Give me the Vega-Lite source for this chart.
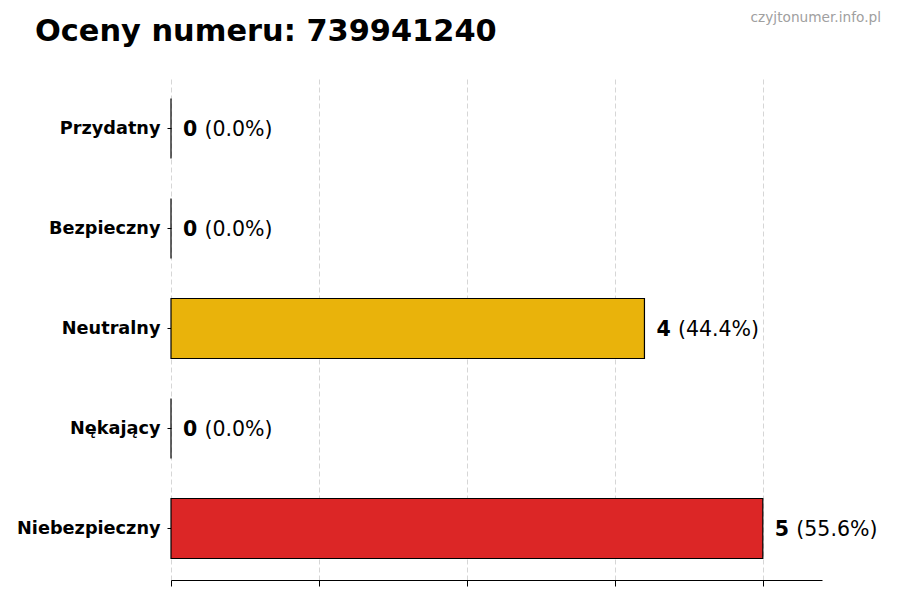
{
  "$schema": "https://vega.github.io/schema/vega-lite/v6.json",
  "width": 651,
  "height": 503,
  "autosize": {"type": "none"},
  "padding": {"left": 171, "top": 77, "right": 78, "bottom": 20},
  "background": "white",
  "config": {"view": {"stroke": null}, "font": "DejaVu Sans"},
  "data": {
    "values": [
      {"kategoria": "Przydatny", "liczba": 0, "procent": "(0.0%)", "kolor": "#22a34a"},
      {"kategoria": "Bezpieczny", "liczba": 0, "procent": "(0.0%)", "kolor": "#2563eb"},
      {"kategoria": "Neutralny", "liczba": 4, "procent": "(44.4%)", "kolor": "#e9b30b"},
      {"kategoria": "Nękający", "liczba": 0, "procent": "(0.0%)", "kolor": "#f97316"},
      {"kategoria": "Niebezpieczny", "liczba": 5, "procent": "(55.6%)", "kolor": "#dc2626"}
    ]
  },
  "encoding": {
    "y": {
      "field": "kategoria",
      "type": "nominal",
      "sort": null,
      "scale": {"paddingInner": 0.4, "paddingOuter": 0.215},
      "axis": {
        "title": null,
        "domain": false,
        "ticks": true,
        "tickColor": "#000000",
        "tickSize": 4,
        "labelPadding": 7,
        "labelFont": "DejaVu Sans",
        "labelFontSize": 17.7,
        "labelFontWeight": "bold",
        "labelColor": "#000000",
        "grid": false
      }
    }
  },
  "layer": [
    {
      "mark": {"type": "bar", "stroke": "#000000", "strokeWidth": 1.2},
      "encoding": {
        "x": {
          "field": "liczba",
          "type": "quantitative",
          "scale": {"domain": [0, 5.5], "nice": false},
          "axis": {
            "title": null,
            "values": [0, 1.25, 2.5, 3.75, 5],
            "labels": false,
            "domain": true,
            "domainColor": "#000000",
            "domainWidth": 1.2,
            "ticks": true,
            "tickColor": "#000000",
            "tickSize": 6,
            "grid": true,
            "gridColor": "#cccccc",
            "gridDash": [5, 3],
            "gridWidth": 0.8
          }
        },
        "color": {"field": "kolor", "type": "nominal", "scale": null, "legend": null}
      }
    },
    {
      "mark": {"type": "text", "align": "left", "baseline": "middle", "dx": 12, "dy": 1, "font": "DejaVu Sans", "fontSize": 20.5, "fontWeight": "bold", "color": "#000000"},
      "encoding": {
        "x": {"field": "liczba", "type": "quantitative"},
        "text": {"field": "liczba", "type": "quantitative"}
      }
    },
    {
      "mark": {"type": "text", "align": "left", "baseline": "middle", "dx": 33.5, "dy": 1, "font": "DejaVu Sans", "fontSize": 20.5, "fontWeight": "normal", "color": "#000000"},
      "encoding": {
        "x": {"field": "liczba", "type": "quantitative"},
        "text": {"field": "procent", "type": "nominal"}
      }
    },
    {
      "data": {"values": [{"napis": "Oceny numeru: 739941240"}]},
      "mark": {"type": "text", "align": "left", "baseline": "alphabetic", "font": "DejaVu Sans", "fontSize": 30.4, "fontWeight": "bold", "color": "#000000"},
      "encoding": {
        "x": {"value": -136},
        "y": {"value": -36},
        "text": {"field": "napis", "type": "nominal"}
      }
    },
    {
      "data": {"values": [{"napis": "czyjtonumer.info.pl"}]},
      "mark": {"type": "text", "align": "right", "baseline": "alphabetic", "font": "DejaVu Sans", "fontSize": 13.7, "color": "#a0a0a0"},
      "encoding": {
        "x": {"value": 710},
        "y": {"value": -55},
        "text": {"field": "napis", "type": "nominal"}
      }
    }
  ]
}
